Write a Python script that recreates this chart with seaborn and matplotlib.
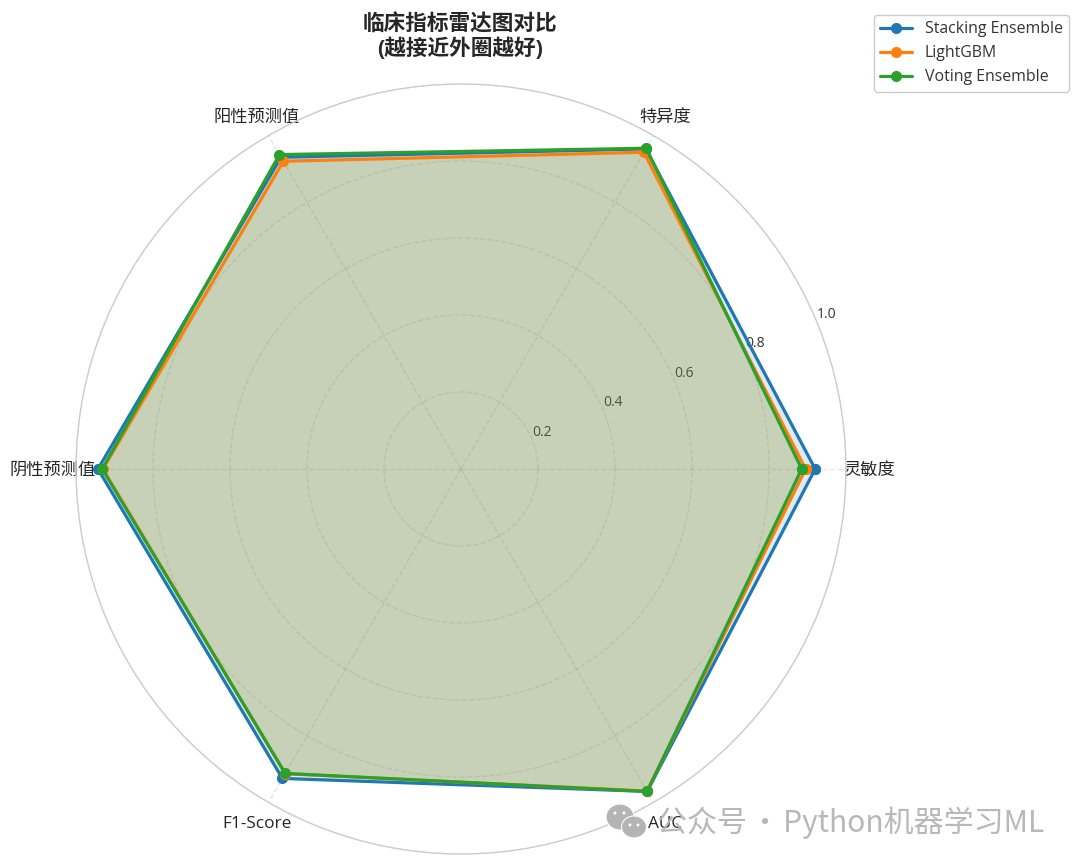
# Radar comparison of clinical metrics for the three best models

import numpy as np
import pandas as pd
import seaborn as sns
import matplotlib.pyplot as plt
from matplotlib.patches import Ellipse, Polygon

metrics = ["灵敏度", "特异度", "阳性预测值", "阴性预测值", "F1-Score", "AUC"]
models = ["Stacking Ensemble", "LightGBM", "Voting Ensemble"]
stacking = [0.92, 0.96, 0.935, 0.943, 0.928, 0.967]
lightgbm = [0.895, 0.95, 0.923, 0.93, 0.914, 0.966]
voting = [0.885, 0.962, 0.943, 0.932, 0.913, 0.967]
colors = ["#1f77b4", "#ff7f0e", "#2ca02c"]
rticks = [0.2, 0.4, 0.6, 0.8, 1.0]

sns.set_theme(style="whitegrid")
plt.rcParams["font.family"] = ["Open Sans", "Noto Sans CJK SC", "DejaVu Sans"]
plt.rcParams["axes.unicode_minus"] = False

angles = np.linspace(0, 2 * np.pi, len(metrics), endpoint=False)

# close the polygons by repeating the first metric
rows = []
for name, values in zip(models, [stacking, lightgbm, voting]):
    for a, v in zip(list(angles) + [angles[0]], values + values[:1]):
        rows.append({"angle": a, "value": v, "model": name})
df = pd.DataFrame(rows)

f = plt.figure(figsize=(10.8, 8.66), dpi=100)
ax = f.add_axes([76 / 1080, 12 / 866, 770 / 1080, 770 / 866], projection="polar")

sns.lineplot(
    data=df,
    x="angle",
    y="value",
    hue="model",
    palette=colors,
    sort=False,
    estimator=None,
    marker="o",
    markersize=8,
    markeredgewidth=0,
    linewidth=2.3,
    ax=ax,
)
for name, color in zip(models, colors):
    sub = df[df["model"] == name]
    ax.fill(sub["angle"], sub["value"], color=color, alpha=0.15, linewidth=0)

ax.set_xlabel("")
ax.set_ylabel("")
ax.set_ylim(0, 1)
ax.set_yticks(rticks)
ax.set_yticklabels([str(t) for t in rticks], fontsize=10, color="#333333")
ax.set_xticks(angles)
ax.set_xticklabels(metrics, fontsize=12.4, color="#262626", va="center_baseline")
ax.grid(True, linestyle="--", color="#b0b0b0", alpha=0.3, linewidth=1)
ax.spines["polar"].set_color("#cccccc")
ax.spines["polar"].set_linewidth(1.0)

f.text(
    460 / 1080,
    1 - 37 / 866,
    "临床指标雷达图对比\n(越接近外圈越好)",
    ha="center",
    va="center",
    fontsize=15.6,
    fontweight="bold",
    color="#262626",
    linespacing=1.15,
)

legend = ax.legend(
    loc="upper right",
    bbox_to_anchor=(1069 / 1080, 1 - 15 / 866),
    bbox_transform=f.transFigure,
    fontsize=11.4,
    frameon=True,
    framealpha=1,
    edgecolor="#cccccc",
    borderaxespad=0,
)
for text in legend.get_texts():
    text.set_color("#333333")

# watermark with the small chat icon
f.text(
    657 / 1080,
    1 - 823 / 866,
    "公众号\u200a·\u200aPython机器学习ML",
    ha="left",
    va="center",
    fontsize=21.6,
    family=["Noto Sans CJK SC", "DejaVu Sans"],
    color="#b4b4b4",
    alpha=0.95,
    zorder=10,
)
icon_color = "#b4b4b4"
# tails of the two speech bubbles, in pixels from the bottom left
f.add_artist(Polygon([(610, 51), (613, 41), (620, 50)], transform=None, facecolor=icon_color, zorder=9))
f.add_artist(Polygon([(636, 36), (642, 30), (643, 39)], transform=None, facecolor=icon_color, zorder=9))
for cx, cy, w, h in [(620, 817, 28, 26), (634, 827, 25, 22)]:
    f.add_artist(
        Ellipse(
            (cx, 866 - cy), w, h, transform=None, facecolor=icon_color,
            edgecolor="white", linewidth=0.8, zorder=9,
        )
    )
for cx, cy in [(615, 813), (624, 813), (630, 825), (638, 825)]:
    f.add_artist(
        Ellipse((cx, 866 - cy), 3, 3, transform=None, facecolor="white", linewidth=0, zorder=9)
    )

plt.savefig("out.png", dpi=100)
